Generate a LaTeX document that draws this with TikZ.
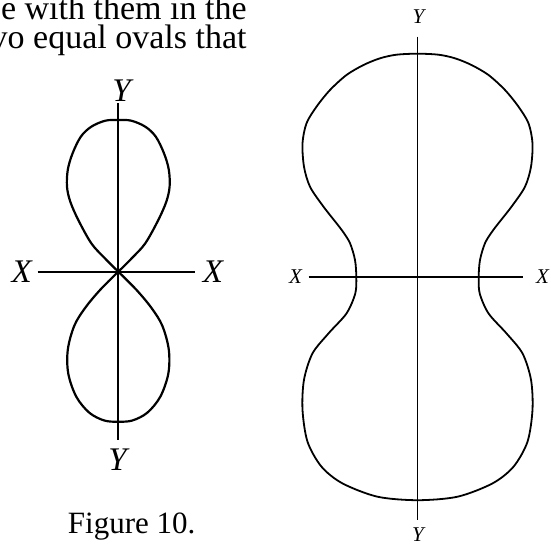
\documentclass[tikz,border=0pt]{standalone}
\usepackage{fontspec}
\setmainfont{Liberation Serif}

\begin{document}
\begin{tikzpicture}[
  x=0.5pt, y=-0.5pt,
  axis/.style={line width=#1},
  axis/.default={1.1pt},
  curve/.style={line width=#1, line join=round},
  curve/.default={1.1pt},
  lbl/.style={font=\fontsize{#1}{#1}\selectfont\itshape, inner sep=0pt},
  lbl/.default={16.5},
  txt/.style={font=\fontsize{#1}{14.5}\selectfont, inner sep=0pt},
  txt/.default={17},
]
\useasboundingbox (0,0) rectangle (551,546);

% --- Running text, cut by the page edge ---
\node[txt, anchor=base east, align=right] (para) at (247, 48.3)
  {e with them in the\\vo equal ovals that};

% --- Left: two equal ovals meeting at the centre ---
\coordinate (o1)  at (118.3, 271.7);
\coordinate (x1a) at (37.7, 271.7);
\coordinate (x1b) at (195, 271.7);
\coordinate (y1a) at (118.3, 103.3);
\coordinate (y1b) at (118.3, 440);

\draw[axis] (x1a) -- (x1b);
\draw[axis] (y1a) -- (y1b);
\draw[curve, shift={(o1)}] plot[smooth, tension=0.55] coordinates {
  (0,0) (14,-14) (27,-28.4) (40,-51.7) (48,-70) (51.3,-85) (50.5,-102)
  (45.7,-118.4) (37.5,-135) (27,-145) (13,-151) (0,-151.7)
  (-13,-151) (-27,-145) (-37.5,-135) (-45.7,-118.4) (-50.5,-102)
  (-51.3,-85) (-48,-70) (-40,-51.7) (-27,-28.4) (-14,-14) (0,0)};
\draw[curve, shift={(o1)}] plot[smooth, tension=0.55] coordinates {
  (0,0) (18,18) (33,36) (44,54) (50.5,78) (50,102) (42,125)
  (29,141) (14,148.8) (0,150)
  (-14,148.8) (-29,141) (-42,125) (-50,102) (-50.5,78) (-44,54)
  (-33,36) (-18,18) (0,0)};

\node[lbl] (y1t) at (121.5, 91) {Y};
\node[lbl] (y1d) at (117.5, 460) {Y};
\node[lbl] (x1l) at (21.7, 271.5) {X};
\node[lbl] (x1r) at (213, 271.5) {X};

\node[txt=15.5, anchor=base] (cap) at (131.7, 533.3) {Figure 10.};

% --- Right: one oval pinched at the X axis ---
\coordinate (o2)  at (417.5, 276.7);
\coordinate (x2a) at (308.5, 276.7);
\coordinate (x2b) at (523.3, 276.7);
\coordinate (y2a) at (417.5, 36.7);
\coordinate (y2b) at (417.5, 520);

\draw[axis=0.9pt] (x2a) -- (x2b);
\draw[axis=0.9pt] (y2a) -- (y2b);
\draw[curve=0.9pt, shift={(o2)}] plot[smooth cycle] coordinates {
  (0,-223) (21,-222) (37.5,-218.4) (54,-211.7) (71,-201.7) (87.5,-186.7)
  (101,-170) (111,-153.4) (115,-133.4) (113.5,-110) (107.5,-90) (94,-70)
  (76,-47) (67.5,-33.5) (62.5,-16.7) (61.2,0)
  (62.2,16.7) (71,36.7) (89,56.7) (105,76.7) (113.5,103) (115,133)
  (110,165) (96,190) (75,206.7) (40,220) (0,223.5)
  (-40,220) (-75,206.7) (-96,190) (-110,165) (-115,133) (-113.5,103)
  (-105,76.7) (-89,56.7) (-71,36.7) (-62.2,16.7) (-61.2,0)
  (-62.5,-16.7) (-67.5,-33.5) (-76,-47) (-94,-70) (-107.5,-90)
  (-113.5,-110) (-115,-133.4) (-111,-153.4) (-101,-170) (-87.5,-186.7)
  (-71,-201.7) (-54,-211.7) (-37.5,-218.4) (-21,-222)};

\node[lbl=10.5] (y2t) at (418.5, 17) {Y};
\node[lbl=10.5] (y2d) at (418, 535) {Y};
\node[lbl=10.5] (x2l) at (295.5, 276.7) {X};
\node[lbl=10.5] (x2r) at (542.5, 276.7) {X};

\end{tikzpicture}
\end{document}
